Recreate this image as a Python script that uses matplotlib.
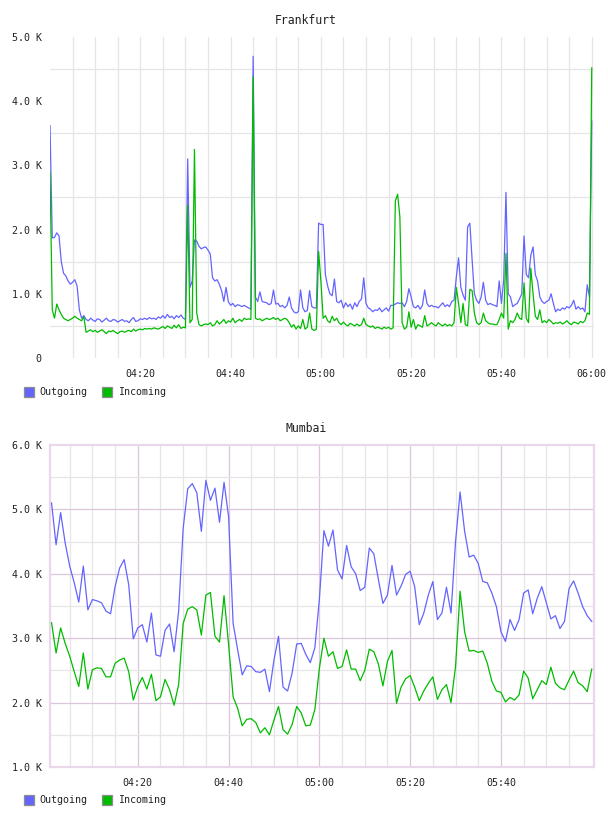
import numpy as np
import matplotlib
matplotlib.use("Agg")
import matplotlib.pyplot as plt
from matplotlib.patches import Rectangle

# ---------------- data ----------------
series_names = ["Outgoing", "Incoming"]

# Frankfurt: samples every 30 s from 04:00 (minutes since 04:00), values in K
fra_step_min = 0.5
fra_out = [
    3.62, 1.87, 1.88, 1.95, 1.90, 1.50, 1.32, 1.28, 1.20, 1.15, 1.18, 1.22, 1.12, 0.75, 0.62, 0.66,
    0.60, 0.58, 0.62, 0.59, 0.57, 0.61, 0.60, 0.56, 0.59, 0.62, 0.58, 0.57, 0.60, 0.59, 0.56, 0.58,
    0.60, 0.57, 0.58, 0.55, 0.60, 0.63, 0.57, 0.58, 0.61, 0.60, 0.62, 0.60, 0.63, 0.61, 0.62, 0.60,
    0.64, 0.62, 0.66, 0.62, 0.68, 0.63, 0.65, 0.61, 0.66, 0.63, 0.67, 0.62,
    0.60, 3.10, 1.10, 1.20, 1.84, 1.82, 1.74, 1.70, 1.72, 1.73, 1.68, 1.62, 1.25, 1.20, 1.22, 1.15,
    1.05, 0.88, 1.10, 0.88, 0.82, 0.85, 0.80, 0.83, 0.82, 0.80, 0.82, 0.80, 0.78, 0.76,
    4.70, 0.95, 0.88, 1.03, 0.88, 0.87, 0.86, 0.83, 0.85, 1.06, 0.84, 0.85, 0.80, 0.82, 0.78, 0.82,
    0.95, 0.78, 0.72, 0.70, 0.72, 1.06, 0.78, 0.72, 0.74, 1.05, 0.80, 0.78, 0.78,
    2.10, 2.08, 2.08, 1.30, 1.12, 1.00, 0.97, 1.23, 0.88, 0.86, 0.90, 0.78, 0.86, 0.80, 0.84, 0.76,
    0.86, 0.80, 0.88, 0.92, 1.25, 0.85, 0.78, 0.76, 0.72, 0.75, 0.74, 0.78, 0.72, 0.75, 0.78, 0.73,
    0.82, 0.82, 0.84, 0.86, 0.85, 0.86, 0.80, 0.88, 1.08, 0.95, 0.80, 0.78, 0.82, 0.76, 0.82, 1.06,
    0.85, 0.80, 0.82, 0.80, 0.80, 0.78, 0.82, 0.86, 0.80, 0.83, 0.80, 0.88, 0.90,
    1.26, 1.56, 1.10, 0.98, 0.90, 2.04, 2.10, 1.53, 1.00, 0.90, 0.85, 0.95, 1.18, 0.90, 0.83, 0.85,
    0.83, 0.82, 0.80, 1.20, 0.85, 1.22, 2.58, 1.00, 0.95, 0.80, 0.83, 0.85, 0.92, 1.00, 1.90, 1.30,
    1.25, 1.60, 1.73, 1.30, 1.20, 0.95, 0.88, 0.85, 0.88, 0.90, 1.00, 0.85, 0.72, 0.76, 0.74, 0.78,
    0.76, 0.80, 0.78, 0.82, 0.90, 0.76, 0.80, 0.76, 0.78, 0.72, 1.14, 0.95, 3.69,
]
fra_in = [
    2.90, 0.75, 0.62, 0.84, 0.75, 0.68, 0.62, 0.60, 0.58, 0.60, 0.62, 0.65, 0.62, 0.60, 0.58, 0.64,
    0.40, 0.42, 0.44, 0.41, 0.43, 0.40, 0.42, 0.44, 0.41, 0.38, 0.42, 0.41, 0.43, 0.40, 0.38, 0.41,
    0.42, 0.40, 0.42, 0.43, 0.41, 0.45, 0.42, 0.44, 0.45, 0.44, 0.46, 0.45, 0.46, 0.45, 0.47, 0.46,
    0.45, 0.47, 0.49, 0.46, 0.50, 0.48, 0.46, 0.51, 0.47, 0.52, 0.46, 0.48,
    0.47, 2.38, 0.55, 0.60, 3.25, 0.70, 0.52, 0.50, 0.52, 0.53, 0.52, 0.55, 0.50, 0.52, 0.58, 0.53,
    0.56, 0.60, 0.54, 0.58, 0.56, 0.62, 0.55, 0.58, 0.60, 0.57, 0.62, 0.60, 0.61, 0.60,
    4.38, 0.62, 0.60, 0.61, 0.58, 0.60, 0.62, 0.60, 0.61, 0.63, 0.60, 0.62, 0.58, 0.60, 0.62, 0.60,
    0.55, 0.48, 0.52, 0.45, 0.50, 0.46, 0.60, 0.45, 0.48, 0.70, 0.45, 0.43, 0.45,
    1.66, 1.20, 0.62, 0.66, 0.58, 0.55, 0.65, 0.58, 0.62, 0.55, 0.52, 0.56, 0.52, 0.50, 0.54, 0.52,
    0.50, 0.53, 0.50, 0.52, 0.62, 0.52, 0.50, 0.48, 0.50, 0.46, 0.48, 0.47, 0.45, 0.48, 0.46, 0.48,
    0.45, 0.47, 2.45, 2.55, 2.20, 0.55, 0.45, 0.48, 0.72, 0.48, 0.60, 0.45, 0.52, 0.50, 0.48, 0.66,
    0.50, 0.52, 0.55, 0.52, 0.50, 0.55, 0.52, 0.50, 0.53, 0.50, 0.52, 0.50, 0.55,
    1.10, 0.85, 0.55, 0.85, 0.52, 0.50, 1.07, 1.05, 0.70, 0.55, 0.52, 0.55, 0.70, 0.58, 0.55, 0.53,
    0.53, 0.52, 0.52, 0.60, 0.70, 0.62, 1.63, 0.45, 0.58, 0.55, 0.60, 0.70, 0.62, 0.60, 1.17, 0.62,
    0.55, 1.40, 1.00, 0.65, 0.60, 0.75, 0.55, 0.58, 0.55, 0.60, 0.57, 0.53, 0.55, 0.54, 0.56, 0.53,
    0.55, 0.58, 0.54, 0.52, 0.56, 0.55, 0.53, 0.57, 0.55, 0.58, 0.70, 0.68, 4.52,
]

# Mumbai: samples every minute from 04:01 to 06:00, values in K
mum_start_min = 1
mum_out = [
    5.10, 4.45, 4.95, 4.48, 4.12, 3.86, 3.56, 4.12, 3.44, 3.60,
    3.58, 3.55, 3.42, 3.38, 3.80, 4.09, 4.22, 3.83, 2.99, 3.16,
    3.21, 2.94, 3.39, 2.74, 2.72, 3.12, 3.22, 2.79, 3.42, 4.71,
    5.32, 5.40, 5.26, 4.66, 5.45, 5.14, 5.33, 4.80, 5.42, 4.89,
    3.23, 2.82, 2.43, 2.57, 2.56, 2.48, 2.47, 2.52, 2.17, 2.66,
    3.03, 2.24, 2.18, 2.46, 2.91, 2.92, 2.75, 2.62, 2.85, 3.60,
    4.67, 4.43, 4.68, 4.06, 3.92, 4.44, 4.11, 4.00, 3.74, 3.79,
    4.40, 4.31, 3.91, 3.54, 3.67, 4.13, 3.67, 3.81, 3.99, 4.04,
    3.80, 3.21, 3.39, 3.67, 3.88, 3.29, 3.39, 3.79, 3.39, 4.50,
    5.27, 4.66, 4.26, 4.29, 4.16, 3.88, 3.86, 3.70, 3.49, 3.10,
    2.95, 3.29, 3.12, 3.29, 3.70, 3.75, 3.38, 3.62, 3.80, 3.55,
    3.30, 3.35, 3.15, 3.26, 3.77, 3.89, 3.70, 3.49, 3.35, 3.26,
]
mum_in = [
    3.24, 2.77, 3.16, 2.92, 2.72, 2.48, 2.25, 2.77, 2.21, 2.51,
    2.54, 2.53, 2.40, 2.40, 2.61, 2.66, 2.69, 2.48, 2.04, 2.25,
    2.39, 2.21, 2.44, 2.03, 2.09, 2.36, 2.20, 1.96, 2.28, 3.23,
    3.45, 3.49, 3.44, 3.05, 3.67, 3.71, 3.03, 2.94, 3.66, 2.90,
    2.09, 1.91, 1.64, 1.74, 1.75, 1.69, 1.53, 1.61, 1.50, 1.73,
    1.94, 1.58, 1.51, 1.66, 1.94, 1.84, 1.64, 1.65, 1.89, 2.53,
    3.00, 2.72, 2.79, 2.53, 2.56, 2.82, 2.52, 2.52, 2.34, 2.50,
    2.83, 2.79, 2.60, 2.26, 2.64, 2.81, 1.99, 2.24, 2.37, 2.42,
    2.24, 2.03, 2.18, 2.30, 2.40, 2.05, 2.20, 2.28, 2.00, 2.56,
    3.73, 3.10, 2.80, 2.81, 2.78, 2.80, 2.61, 2.33, 2.18, 2.16,
    2.01, 2.08, 2.04, 2.12, 2.49, 2.38, 2.06, 2.20, 2.34, 2.28,
    2.55, 2.30, 2.23, 2.20, 2.35, 2.49, 2.31, 2.26, 2.17, 2.52,
]

xtick_minutes = [20, 40, 60, 80, 100, 120]
xtick_labels = ["04:20", "04:40", "05:00", "05:20", "05:40", "06:00"]

# ---------------- style ----------------
W, H = 608, 816
C_OUT = "#6464ff"
C_IN = "#00bb00"
GRID_MINOR = "#e6e6e6"
GRID_MAJOR_M = "#dcc6dc"
FRAME_M = "#ead8ea"
FONT = "DejaVu Sans Mono"
FS_TICK = 7.2
FS_TITLE = 8.3

fig = plt.figure(figsize=(W / 100, H / 100), dpi=100)


def px_axes(left, top, right, bottom):
    return fig.add_axes([left / W, 1 - bottom / H, (right - left) / W, (bottom - top) / H])


def fmt_k(v):
    return "0" if v == 0 else f"{v / 1000:.1f} K"


def legend_row(y_center):
    for (name, col), (sx, tx) in zip(zip(series_names, [C_OUT, C_IN]), [(24, 39), (102, 118)]):
        fig.patches.append(Rectangle((sx / W, 1 - (y_center + 5) / H), 10 / W, 10 / H,
                                     transform=fig.transFigure, facecolor=col,
                                     edgecolor="#8c8c8c", lw=0.9))
        fig.text(tx / W, 1 - y_center / H, name, family=FONT, fontsize=FS_TICK,
                 va="center", ha="left", color="#222222")


def style_axes(ax, ylo, yhi, xlo, xhi, major_color, frame, last_grid, last_tick, int_k_lines):
    ax.set_xlim(xlo, xhi)
    ax.set_ylim(ylo, yhi)
    # vertical grid every 5 minutes, major every 20
    for m in range(5, last_grid + 1, 5):
        is_major = (m % 20 == 0)
        ax.axvline(m, color=major_color if is_major else GRID_MINOR, lw=0.9, zorder=0)
    # horizontal grid: half-K lines grey, integer K lines in the major colour
    for v in np.arange(ylo + 500, yhi, 500):
        is_major = (v % 1000 == 0)
        if is_major and not int_k_lines:
            continue
        ax.axhline(v, color=major_color if is_major else GRID_MINOR, lw=0.9, zorder=0)
    ticks = np.arange(ylo, yhi + 1, 1000)
    ax.set_yticks(ticks)
    ax.set_yticklabels([fmt_k(v) for v in ticks], family=FONT, fontsize=FS_TICK, color="#222222")
    xt = [m for m in xtick_minutes if m <= last_tick]
    ax.set_xticks(xt)
    ax.set_xticklabels([xtick_labels[xtick_minutes.index(m)] for m in xt], family=FONT,
                       fontsize=FS_TICK, color="#222222")
    ax.tick_params(length=0, pad=6)
    ax.tick_params(axis="x", pad=8)
    for s in ax.spines.values():
        if frame:
            s.set_color(FRAME_M)
            s.set_linewidth(1.6)
        else:
            s.set_visible(False)


# ---- Frankfurt ----
ax1 = px_axes(50, 37, 594, 358)
fra_t = np.arange(len(fra_out)) * fra_step_min
style_axes(ax1, 0, 5000, 0, 120.5, GRID_MINOR, frame=False, last_grid=120, last_tick=120,
           int_k_lines=False)
ax1.plot(fra_t, np.array(fra_out) * 1000, color=C_OUT, lw=0.9, zorder=3)
ax1.plot(fra_t, np.array(fra_in) * 1000, color=C_IN, lw=0.9, zorder=4)
fig.text(306 / W, 1 - 20 / H, "Frankfurt", family=FONT, fontsize=FS_TITLE,
         ha="center", va="center", color="#222222")
legend_row(392)

# ---- Mumbai ----
ax2 = px_axes(50, 445, 594, 767)
mum_t = mum_start_min + np.arange(len(mum_out))
style_axes(ax2, 1000, 6000, 0.66, 120.5, GRID_MAJOR_M, frame=True, last_grid=115, last_tick=100,
           int_k_lines=True)
ax2.plot(mum_t, np.array(mum_out) * 1000, color=C_OUT, lw=0.9, zorder=3)
ax2.plot(mum_t, np.array(mum_in) * 1000, color=C_IN, lw=0.9, zorder=4)
fig.text(306 / W, 1 - 429 / H, "Mumbai", family=FONT, fontsize=FS_TITLE,
         ha="center", va="center", color="#222222")
legend_row(800)

fig.savefig("out.png", dpi=100, facecolor="white")
